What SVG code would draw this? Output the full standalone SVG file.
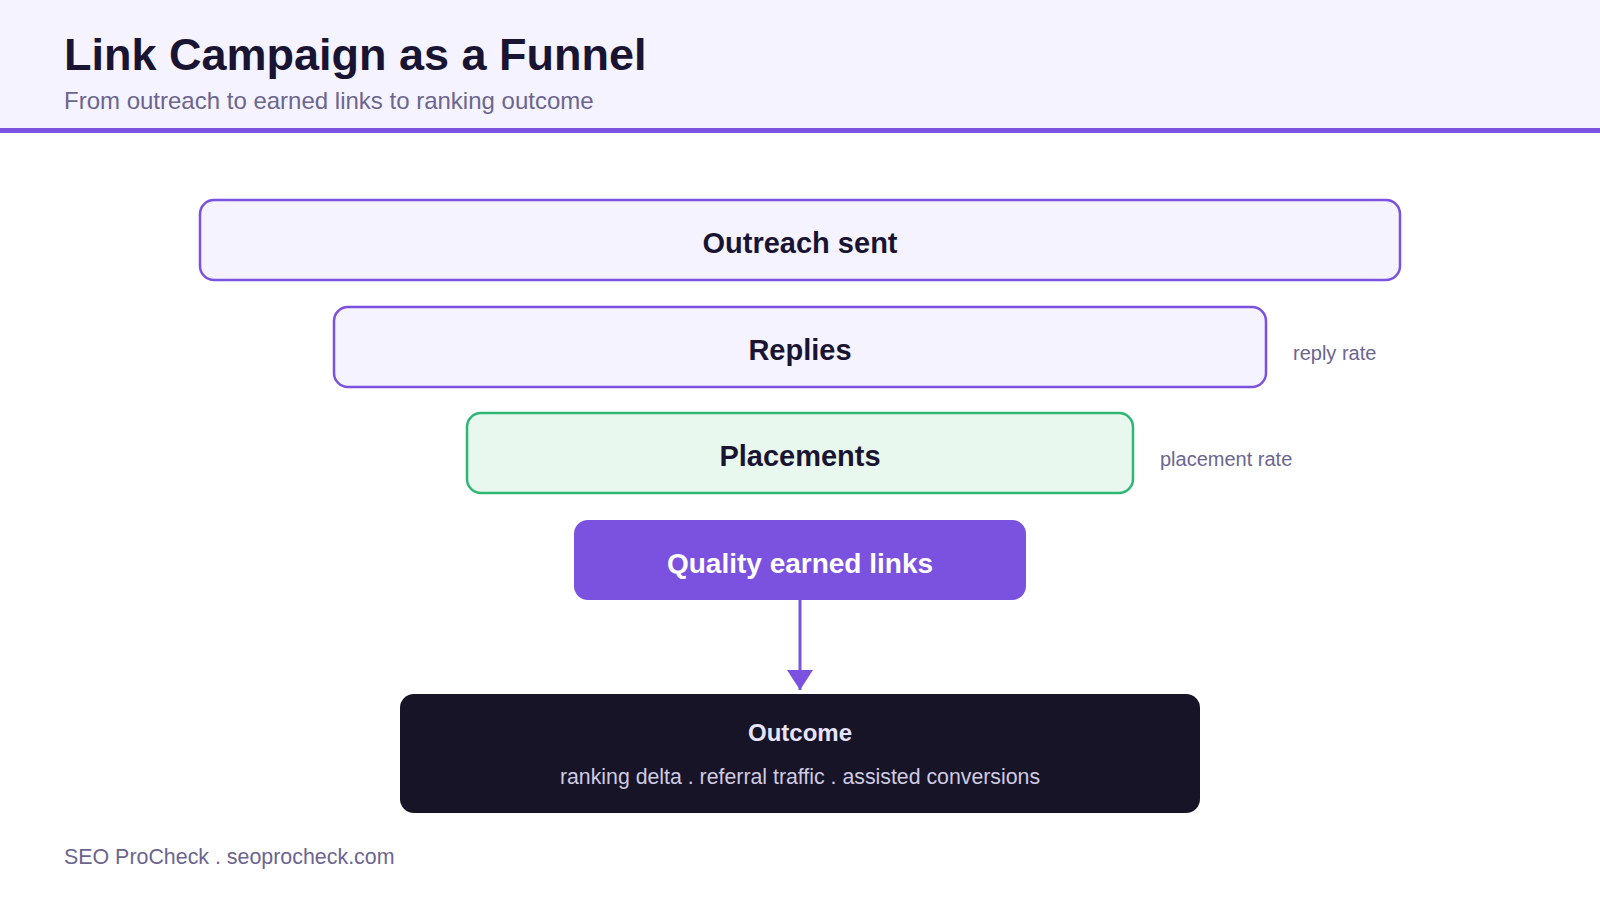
<svg xmlns="http://www.w3.org/2000/svg" width="1600" height="900" viewBox="0 0 1600 900">
<defs>
<style>
.t{font-family:"Liberation Sans",Arial,sans-serif}
.stage{fill:#F5F3FF;stroke:#7B52E0;stroke-width:2.5}
.green{fill:#E8F8EE;stroke:#2EB774;stroke-width:2.5}
.lbl{font-family:"Liberation Sans",Arial,sans-serif;font-weight:bold;font-size:29px;fill:#1A1433;text-anchor:middle}
.side{font-family:"Liberation Sans",Arial,sans-serif;font-size:20px;fill:#6B6590}
</style>
<marker id="ah" viewBox="0 0 20 26" refX="20" refY="13" markerWidth="20" markerHeight="26" markerUnits="userSpaceOnUse" orient="auto">
<path d="M0,0 L20,13 L0,26 z" fill="#7B52E0"/>
</marker>
</defs>
<rect width="1600" height="900" fill="#FFFFFF"/>
<g id="header">
<rect x="0" y="0" width="1600" height="128" fill="#F5F3FF"/>
<rect x="0" y="128" width="1600" height="5" fill="#7B52E0"/>
<text class="t" x="64" y="70" font-size="45" font-weight="bold" fill="#1A1433">Link Campaign as a Funnel</text>
<text class="t" x="64" y="109" font-size="24" fill="#6B6590">From outreach to earned links to ranking outcome</text>
</g>
<g id="connectors">
<line x1="800" y1="600" x2="800" y2="690" stroke="#7B52E0" stroke-width="3" marker-end="url(#ah)"/>
</g>
<g id="outreach">
<rect class="stage" x="200" y="200" width="1200" height="80" rx="14"/>
<text class="lbl" x="800" y="253">Outreach sent</text>
</g>
<g id="replies">
<rect class="stage" x="334" y="307" width="932" height="80" rx="14"/>
<text class="lbl" x="800" y="360">Replies</text>
<text class="side" x="1293" y="360">reply rate</text>
</g>
<g id="placements">
<rect class="green" x="467" y="413" width="666" height="80" rx="14"/>
<text class="lbl" x="800" y="466">Placements</text>
<text class="side" x="1160" y="466">placement rate</text>
</g>
<g id="quality">
<rect x="574" y="520" width="452" height="80" rx="14" fill="#7B52E0"/>
<text class="lbl" x="800" y="573" style="fill:#FFFFFF;font-size:28px">Quality earned links</text>
</g>
<g id="outcome">
<rect x="400" y="694" width="800" height="119" rx="14" fill="#171427"/>
<text class="t" x="800" y="741" font-size="24" font-weight="bold" fill="#E8E4FF" text-anchor="middle">Outcome</text>
<text class="t" x="800" y="784" font-size="21.3" fill="#CFCBE3" text-anchor="middle">ranking delta . referral traffic . assisted conversions</text>
</g>
<g id="footer">
<text class="t" x="64" y="864" font-size="21.4" fill="#6B6590">SEO ProCheck . seoprocheck.com</text>
</g>
</svg>
